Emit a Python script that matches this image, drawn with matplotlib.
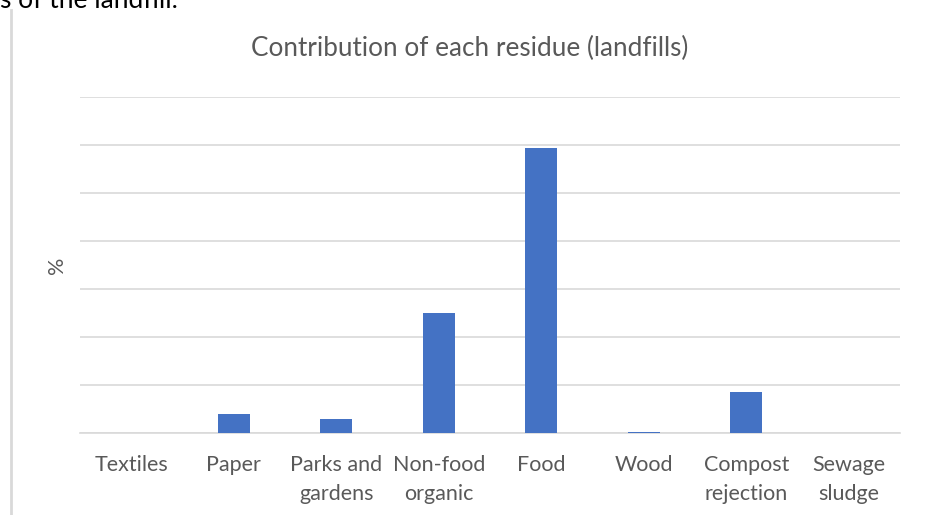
import numpy as np
import matplotlib
matplotlib.use("Agg")
import matplotlib.pyplot as plt

plt.rcParams['font.family'] = ['Lato', 'DejaVu Sans']

categories = ["Textiles", "Paper", "Parks and\ngardens", "Non-food\norganic",
              "Food", "Wood", "Compost\nrejection", "Sewage\nsludge"]
share = [0.0, 0.39, 0.285, 2.5, 5.93, 0.02, 0.85, 0.0]

text_grey = "#595959"
grid_grey = "#d9d9d9"
bar_blue = "#4472C4"

fig = plt.figure(figsize=(9.26, 5.15), dpi=100)
ax = fig.add_axes([80 / 926, 1 - 433 / 515, 820 / 926, 336 / 515])

x = np.arange(len(categories))
ax.bar(x, share, width=0.31, color=bar_blue, zorder=3)

ax.set_xlim(-0.5, len(categories) - 0.5)
ax.set_ylim(0, 7)
ax.set_yticks(np.arange(0, 8, 1))
ax.set_yticklabels([])
ax.tick_params(axis='y', length=0)
ax.grid(axis='y', color=grid_grey, linewidth=1.2, zorder=0)

ax.set_xticks(x)
ax.set_xticklabels(categories, color=text_grey, fontsize=15.5, linespacing=1.55, va='top')
ax.tick_params(axis='x', length=0, pad=16)

for side in ['top', 'right', 'left']:
    ax.spines[side].set_visible(False)
ax.spines['bottom'].set_color(grid_grey)
ax.spines['bottom'].set_linewidth(1.2)

ax.set_ylabel("%", color=text_grey, fontsize=15.5, labelpad=6)

fig.text(470 / 926, 1 - 48 / 515, "Contribution of each residue (landfills)",
         ha='center', va='center', color=text_grey, fontsize=18.8)

# page text and margin line around the embedded chart
fig.text(0, 1 - 8 / 515, "s of the landfill.", ha='left', va='baseline',
         color='black', fontsize=19)
fig.add_artist(plt.Line2D([11 / 926, 11 / 926], [0, 1 - 10 / 515],
                          color=grid_grey, linewidth=2, transform=fig.transFigure))

fig.savefig("out.png", dpi=100)
